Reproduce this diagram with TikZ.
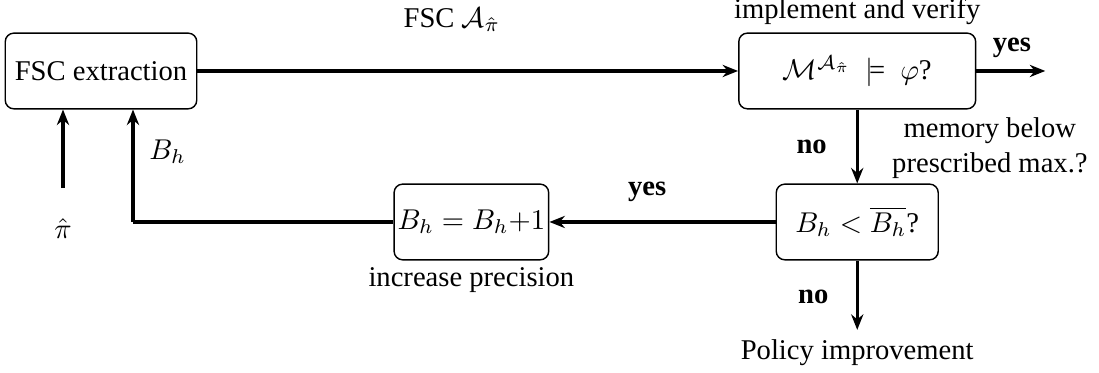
\documentclass[tikz,border=0pt]{standalone}
\usepackage{amsmath,amssymb}
\usepackage{fontspec}
\setmainfont{Liberation Serif}
\usetikzlibrary{arrows.meta,positioning,calc}

\begin{document}
\begin{tikzpicture}[font=\normalsize,
  b/.style={draw,line width=0.5pt,rounded corners=3pt,minimum height=9.3mm,align=center},
  a/.style={-{Stealth[length=1.9mm,width=1.5mm]},line width=1.2pt},
  l/.style={line width=1.2pt}]
\useasboundingbox (-1.241,-3.71) rectangle (12.26,0.872);
\node[b]  (fsc) at (0,0)            {FSC extraction};
\node[b,minimum width=29.1mm] (ver) at (9.29,0) {$\mathcal{M}^{\mathcal{A}_{\hat{\pi}}}\ \models\ \varphi$?};
\node[b,minimum width=19.9mm] (chk) at (9.29,-1.855) {$B_h < \overline{B_h}$?};
\node[b,inner xsep=1.2pt]  (inc) at (4.55,-1.855) {$B_h = B_h{+}1$};
\node     (pihat) at (-0.467,-1.93) {$\hat{\pi}$};
\node     (pol) at (9.29,-3.464)    {Policy improvement};
\coordinate (out) at (11.6,0);
\coordinate (ret) at (0.393,-1.855);
\draw[a] (fsc) -- (ver);
\draw[a] (ver) -- (out);
\draw[a] (ver) -- (chk);
\draw[a] (chk) -- (inc);
\draw[a] (chk) -- (pol);
\draw[l] (inc.west) -- (ret);
\draw[a] (ret) -- (ret |- fsc.south);
\draw[a,shorten <=7pt] (pihat.north) -- (pihat |- fsc.south);
\node at (4.31,0.627) {FSC $\mathcal{A}_{\hat{\pi}}$};
\node at (9.29,0.725) {implement and verify};
\node at (11.19,0.28) {\textbf{yes}};
\node at (8.73,-0.934) {\textbf{no}};
\node[align=center] at (10.92,-0.946) {memory below\\prescribed max.?};
\node at (6.71,-1.486) {\textbf{yes}};
\node at (4.55,-2.57) {increase precision};
\node at (8.75,-2.776) {\textbf{no}};
\node[anchor=west] at (0.47,-0.995) {$B_h$};
\end{tikzpicture}
\end{document}
